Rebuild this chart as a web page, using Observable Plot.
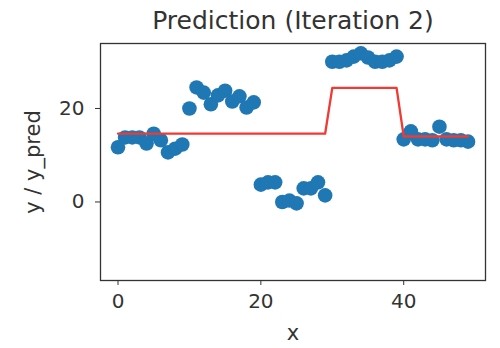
<!DOCTYPE html>
<html>
<head>
<meta charset="utf-8">
<script src="https://cdn.jsdelivr.net/npm/d3@7"></script>
<script src="https://cdn.jsdelivr.net/npm/@observablehq/plot@0.6"></script>
<style>
  html, body { margin: 0; padding: 0; background: #fff; }
  svg { display: block; }
</style>
</head>
<body>
<div id="chart"></div>
<script>
const titleText = "Prediction (Iteration 2)";
const xLabel = "x";
const yLabel = "y / y_pred";
const xTicks = [0, 20, 40];
const yTicks = [0, 20];

const yObserved = [
  11.7, 13.8, 13.8, 13.8, 12.5, 14.6, 13.2, 10.6, 11.4, 12.3,
  20.0, 24.5, 23.4, 20.9, 22.8, 23.8, 21.5, 22.6, 20.2, 21.3,
  3.7, 4.2, 4.2, 0.0, 0.3, -0.3, 2.9, 2.9, 4.2, 1.4,
  30.0, 30.0, 30.3, 31.1, 31.8, 30.9, 30.0, 30.0, 30.3, 31.1,
  13.4, 15.1, 13.4, 13.4, 13.2, 16.1, 13.4, 13.2, 13.2, 12.9
];
const predLevels = [14.6, 24.4, 14.0];
const predSegments = [[0, 29], [30, 39], [40, 49]];

const xs = yObserved.map((_, i) => i);
const points = xs.map((x, i) => ({x, y: yObserved[i]}));
const pred = xs.map(x => {
  const k = predSegments.findIndex(([a, b]) => x >= a && x <= b);
  return {x, y: predLevels[k]};
});

const font = "DejaVu Sans, sans-serif";
const chart = Plot.plot({
  width: 500,
  height: 348,
  marginLeft: 100,
  marginRight: 15,
  marginTop: 43,
  marginBottom: 68,
  style: {fontFamily: font, fontSize: "20px", color: "#333", background: "#fff"},
  x: {domain: [-2.45, 51.45], ticks: xTicks, label: null},
  y: {domain: [-16.8, 33.9], ticks: yTicks, label: null},
  marks: [
    Plot.dot(points, {x: "x", y: "y", r: 7.3, fill: "#1f77b4", stroke: "none"}),
    Plot.line(pred, {x: "x", y: "y", stroke: "#f03a32", strokeWidth: 2.3}),
    Plot.frame({stroke: "#333", strokeWidth: 1.3}),
    Plot.axisX({ticks: xTicks, tickSize: 5, tickPadding: 8, label: null, fontSize: 20, stroke: "#333"}),
    Plot.axisY({ticks: yTicks, tickSize: 5, tickPadding: 11, label: null, fontSize: 20, stroke: "#333"}),
    Plot.text([titleText], {frameAnchor: "top", lineAnchor: "middle", dy: -23, fontSize: 25, fill: "#333", fontFamily: font}),
    Plot.text([xLabel], {frameAnchor: "bottom", lineAnchor: "middle", dy: 53, fontSize: 21, fill: "#333", fontFamily: font}),
    Plot.text([yLabel], {frameAnchor: "left", textAnchor: "middle", lineAnchor: "middle", dx: -67, rotate: -90, fontSize: 21, fill: "#333", fontFamily: font})
  ]
});
document.getElementById("chart").appendChild(chart);
</script>
</body>
</html>
